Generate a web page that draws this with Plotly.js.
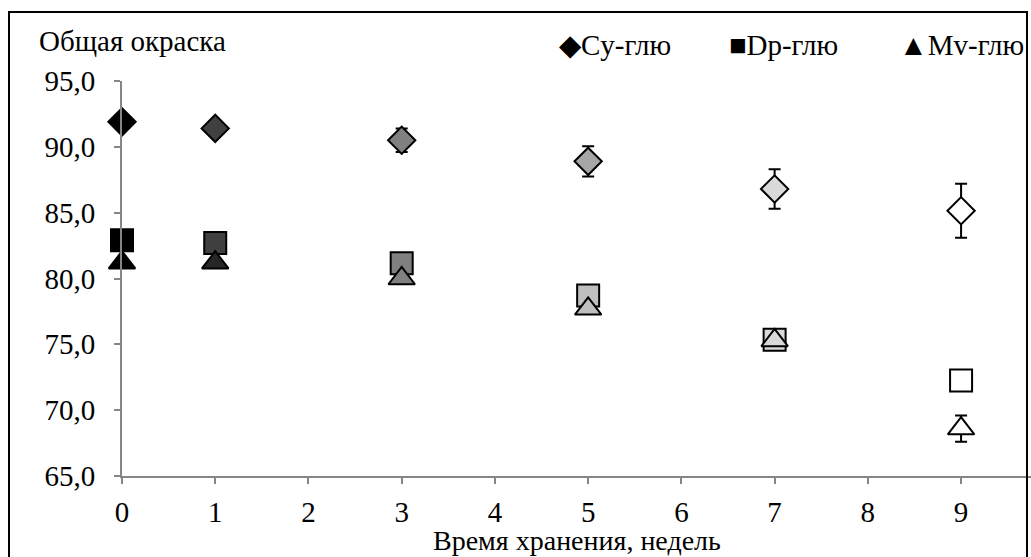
<!DOCTYPE html>
<html>
<head>
<meta charset="utf-8">
<script src="https://cdn.plot.ly/plotly-3.0.1.min.js"></script>
<style>
html,body{margin:0;padding:0;background:#fff;overflow:hidden;}
#chart{width:1031px;height:557px;}
</style>
</head>
<body>
<div id="chart"></div>
<script>
// Data
const weeks = [0, 1, 3, 5, 7, 9];
const seriesNames = ['Cy-глю', 'Dp-глю', 'Mv-глю'];
const cyValues = [91.9, 91.4, 90.5, 88.9, 86.8, 85.15];
const cyErrors = [0, 0, 0.9, 1.15, 1.5, 2.05];
const dpValues = [82.9, 82.7, 81.15, 78.7, 75.35, 72.25];
const dpErrors = [0, 0, 0, 0, 0, 0];
const mvValues = [81.2, 81.2, 80.0, 77.7, 75.3, 68.6];
const mvErrors = [0, 0, 0, 0, 0, 1.0];
const yTickVals = [65, 70, 75, 80, 85, 90, 95];
const yTickText = ['65,0', '70,0', '75,0', '80,0', '85,0', '90,0', '95,0'];
const xTickVals = [0, 1, 2, 3, 4, 5, 6, 7, 8, 9];
const xTickText = ['0', '1', '2', '3', '4', '5', '6', '7', '8', '9'];
const yTitle = 'Общая окраска';
const xTitle = 'Время хранения, недель';

// Styles
const cyColors = ['#000000', '#404040', '#808080', '#a6a6a6', '#d9d9d9', '#ffffff'];
const dpColors = ['#000000', '#404040', '#808080', '#bfbfbf', '#d9d9d9', '#ffffff'];
const mvColors = ['#000000', '#262626', '#808080', '#bfbfbf', '#d9d9d9', '#ffffff'];
const FONT = 'Liberation Serif';
const FS = 29;

function mk(name, y, err, colors, symbol, size) {
  return {
    type: 'scatter', mode: 'markers', name: name, x: weeks, y: y,
    marker: { symbol: symbol, size: size, color: colors, line: { color: '#000', width: 2 } },
    error_y: { type: 'data', array: err, visible: true, color: '#000', thickness: 2, width: 6 },
    showlegend: false, cliponaxis: false
  };
}

const traces = [
  mk(seriesNames[0], cyValues, cyErrors, cyColors, 'diamond', 21),
  mk(seriesNames[1], dpValues, dpErrors, dpColors, 'square', 22),
  mk(seriesNames[2], mvValues, mvErrors, mvColors, 'triangle-up', 23)
];

const axisCol = '#868686';
const tf = { family: FONT, size: FS, color: '#000' };
const lf = { family: FONT, size: 29, color: '#000' };
const layout = {
  width: 1031, height: 557,
  margin: { l: 122, r: 0, t: 81, b: 81 },
  paper_bgcolor: '#fff', plot_bgcolor: '#fff',
  font: tf,
  showlegend: false,
  xaxis: {
    range: [0, 9.75], tickvals: xTickVals, ticktext: xTickText,
    showgrid: false, zeroline: false, showline: true, linecolor: axisCol, linewidth: 2,
    ticks: 'outside', ticklen: 6, tickwidth: 2, tickcolor: axisCol,
    tickfont: tf, ticklabelstandoff: 3
  },
  yaxis: {
    range: [65, 95], tickvals: yTickVals, ticktext: yTickText,
    showgrid: false, zeroline: false, showline: true, linecolor: axisCol, linewidth: 2,
    ticks: 'outside', ticklen: 6, tickwidth: 2, tickcolor: axisCol,
    tickfont: tf, ticklabelstandoff: 13
  },
  annotations: [
    // outer frame of the chart (drawn as an empty bordered annotation box)
    { text: ' ', xref: 'paper', yref: 'paper', x: -0.1254, y: 1.1772, xanchor: 'left', yanchor: 'top',
      width: 1016, height: 600, borderpad: 0, bordercolor: '#000', borderwidth: 2,
      bgcolor: 'rgba(0,0,0,0)', showarrow: false, font: { family: FONT, size: 10, color: '#000' } },
    { text: yTitle, xref: 'paper', yref: 'paper', x: -0.093, y: 1.1, xanchor: 'left', yanchor: 'middle',
      showarrow: false, font: tf },
    { text: xTitle, xref: 'paper', yref: 'paper', x: 0.5, y: -0.163, xanchor: 'center', yanchor: 'middle',
      showarrow: false, font: { family: FONT, size: 28, color: '#000' } },
    { text: '◆' + seriesNames[0], xref: 'paper', yref: 'paper', x: 0.478, y: 1.092, xanchor: 'left', yanchor: 'middle',
      showarrow: false, font: lf },
    { text: '■' + seriesNames[1], xref: 'paper', yref: 'paper', x: 0.666, y: 1.092, xanchor: 'left', yanchor: 'middle',
      showarrow: false, font: lf },
    { text: '▲' + seriesNames[2], xref: 'paper', yref: 'paper', x: 0.853, y: 1.092, xanchor: 'left', yanchor: 'middle',
      showarrow: false, font: lf }
  ]
};

Plotly.newPlot('chart', traces, layout, { staticPlot: true, displayModeBar: false });
</script>
</body>
</html>
